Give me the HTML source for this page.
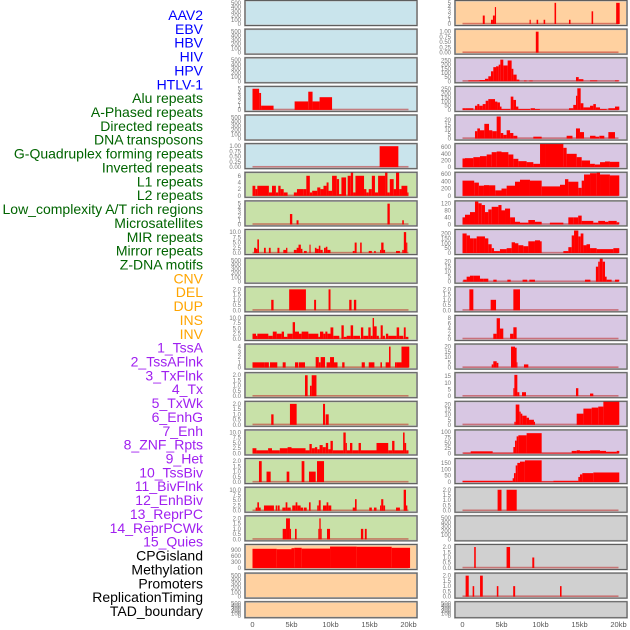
<!DOCTYPE html>
<html><head><meta charset="utf-8">
<style>
html,body{margin:0;padding:0;background:#fff;}
svg{display:block;font-family:"Liberation Sans",sans-serif;}
</style></head>
<body>
<svg id="chart" width="630" height="630" viewBox="0 0 630 630" xmlns="http://www.w3.org/2000/svg"></svg>
<script>
// ---------- data ----------
const trackLabels = ["AAV2","EBV","HBV","HIV","HPV","HTLV-1","Alu repeats","A-Phased repeats","Directed repeats","DNA transposons","G-Quadruplex forming repeats","Inverted repeats","L1 repeats","L2 repeats","Low_complexity A/T rich regions","Microsatellites","MIR repeats","Mirror repeats","Z-DNA motifs","CNV","DEL","DUP","INS","INV","1_TssA","2_TssAFlnk","3_TxFlnk","4_Tx","5_TxWk","6_EnhG","7_Enh","8_ZNF_Rpts","9_Het","10_TssBiv","11_BivFlnk","12_EnhBiv","13_ReprPC","14_ReprPCWk","15_Quies","CPGisland","Methylation","Promoters","ReplicationTiming","TAD_boundary"];
const labelColors = ["#0000ff","#0000ff","#0000ff","#0000ff","#0000ff","#0000ff","#006400","#006400","#006400","#006400","#006400","#006400","#006400","#006400","#006400","#006400","#006400","#006400","#006400","#ffa500","#ffa500","#ffa500","#ffa500","#ffa500","#a020f0","#a020f0","#a020f0","#a020f0","#a020f0","#a020f0","#a020f0","#a020f0","#a020f0","#a020f0","#a020f0","#a020f0","#a020f0","#a020f0","#a020f0","#000000","#000000","#000000","#000000","#000000"];
const xTicks = [0,5,10,15,20];
const xTickLabels = ["0","5kb","10kb","15kb","20kb"];

const tEmpty = [0,100,200,300,400,500];
const t2 = [0,0.5,1,1.5,2];
const t10 = [0,2.5,5,7.5,10];
const t5 = [0,1,2,3,4,5];
const t20 = [0,5,10,15,20];

// left column panels (segments: [startKb, endKb, value])
const L0=[],L1=[],L2=[],L4=[],L9=[],L20=[],L21=[];
const L3=[[0,0.85,5],[0.85,1.1,4],[1.1,2.7,1],[5.4,7.15,2],[7.15,7.7,4.3],[7.7,8.6,2],[8.6,10.2,3]];
const L5=[[16.3,18.7,1]];
const L6=[[0,0.36,3],[0.36,0.62,2],[0.62,2.1,3],[2.1,2.5,1],[2.5,3.0,3],[3.0,3.3,1],[3.3,3.6,3],[3.6,4.0,2],[4.0,4.5,1],[5.3,5.7,1],[5.7,6.5,2],[6.5,6.9,2],[6.9,7.35,6],[7.35,7.65,1],[7.65,8.3,1.5],[8.3,8.7,2.5],[8.7,9.1,2],[9.1,9.5,3],[9.5,9.75,4],[9.75,10.2,1.5],[10.2,10.8,6],[10.8,11.1,5],[11.1,11.4,0.5],[11.4,12.0,5.5],[12.2,12.6,6],[12.6,12.9,7],[12.9,13.2,1],[13.2,14.3,6],[14.3,14.6,2],[14.6,14.9,1],[14.9,15.3,2],[15.3,15.7,6],[15.7,16.1,1],[16.1,17.0,6],[17.0,17.3,7],[17.3,17.6,1],[17.6,18.1,5],[18.1,18.4,2],[18.4,18.8,7],[18.8,19.1,2],[19.1,19.85,3],[19.85,20,1]];
const L7=[[4.8,5.1,2.5],[5.65,5.9,1],[17.3,17.6,5],[19.2,19.4,1]];
const L8=[[0.2,0.45,2.5],[0.45,0.62,2],[0.62,0.83,6.5],[1.47,1.7,2.5],[2.1,2.33,2.5],[3.2,3.45,2.5],[3.95,4.3,1.5],[4.3,4.47,2.5],[5.3,5.66,1.5],[5.66,5.9,2.5],[5.9,6.2,4],[6.2,6.4,2],[6.6,6.95,1],[7.3,7.45,4],[8.0,8.2,2.5],[8.2,8.5,2],[8.5,8.7,3.5],[8.7,9.0,1.5],[9.17,9.4,2.5],[9.4,9.6,3],[9.6,10.0,1.5],[12.85,13.1,1],[13.1,13.35,5],[13.8,14.0,5],[14.9,15.3,1],[15.6,15.8,1],[16.35,16.5,1.5],[16.5,16.8,5],[16.8,17.0,1.5],[18.4,18.9,1],[19.2,19.4,1.5],[19.4,19.7,10],[19.7,19.85,5]];
const L10=[[2.4,2.7,1],[4.7,6.85,2],[7.9,8.15,1],[9.75,10.0,2],[12.4,12.7,1],[13.0,13.3,1]];
const L11=[[0,0.45,2.5],[0.45,0.62,1.5],[0.62,2.03,2.5],[2.03,2.6,1.5],[2.6,3.1,3.5],[3.1,3.74,2.5],[3.74,4.04,3.5],[4.04,4.47,1],[4.47,5.15,2.5],[5.15,5.45,8],[5.45,5.96,3.5],[5.96,6.3,2.5],[6.3,7.16,3.5],[7.16,8.44,2.5],[8.44,8.65,1],[8.65,9.08,3.5],[9.08,9.34,2.5],[9.34,9.6,3.5],[9.6,10.0,2.5],[10.0,10.36,5.5],[10.36,11.13,1.5],[11.4,11.7,6.5],[11.7,12.07,1],[12.07,12.58,1.5],[12.58,12.9,6.5],[12.9,13.78,1.5],[13.9,14.2,5.5],[14.2,14.85,1.5],[14.85,15.15,5.5],[15.15,15.4,1.5],[15.4,15.58,10],[15.58,15.92,6],[15.92,16.2,1.5],[16.43,16.7,6.5],[16.7,16.98,1.5],[17.1,17.4,2.5],[17.4,18.48,1.5],[18.48,18.8,5.5],[18.8,19.33,1.5],[19.4,19.64,5.5],[19.64,19.98,1]];
const L12=[[0,1.52,1],[1.52,2.1,1],[2.24,3.18,1],[3.87,4.25,1],[5.45,5.88,1],[5.96,6.73,1],[8.1,8.5,2],[8.5,8.74,1],[8.74,9.3,2],[9.5,9.94,1],[9.94,10.45,2],[10.45,10.9,1],[11.5,11.8,1],[14.0,14.4,1],[14.9,15.63,1],[16.4,16.6,1],[17.07,17.5,1],[17.5,17.7,4],[18.27,18.48,1],[18.48,19.1,1],[19.1,20.1,4]];
const L13=[[6.73,7.07,2],[7.37,7.59,1],[7.59,8.2,2]];
const L14=[[2.4,2.7,1],[4.8,5.66,2],[9.04,9.3,2],[9.38,9.77,1]];
const L15=[[0,0.5,2.5],[0.5,2.0,1.5],[2.0,2.5,2.5],[2.5,3.5,1.5],[3.5,4.5,2.5],[4.5,5.0,3],[5.0,6.8,2.5],[6.8,7.3,1.5],[7.3,7.6,4.5],[7.6,8.0,2.5],[8.0,8.3,3],[8.3,8.6,2],[8.6,9.0,4],[9.0,9.4,3],[9.4,9.7,5],[9.7,10.0,2],[10.0,10.3,6],[10.3,11.65,1.5],[11.65,11.95,10],[11.95,12.1,5],[12.1,12.5,1.5],[12.5,12.8,5],[12.8,13.6,1.5],[13.6,13.9,5],[13.9,15.9,1.5],[15.9,17.4,5],[17.4,17.9,1.5],[17.9,18.2,6],[18.2,19.3,1.5],[19.3,19.5,10],[19.5,19.7,5],[19.7,20,1.5]];
const L16=[[0.83,1.18,2],[1.8,2.33,1],[4.38,4.72,1],[6.3,6.65,2],[7.24,8.1,1],[8.27,9.17,2]];
const L17=[[0.4,0.62,1.5],[0.62,0.83,4],[0.83,1.05,1.5],[1.47,2.75,2.5],[2.97,3.2,2.5],[3.27,3.48,2.5],[3.83,4.25,1.5],[4.25,4.47,4],[4.47,4.9,1.5],[5.1,5.53,2.5],[5.53,5.75,4],[5.75,6.17,2.5],[6.17,6.5,1.5],[6.6,6.95,1.5],[7.24,7.45,4],[8.3,8.5,2.5],[8.5,8.74,5],[9.04,9.5,2.5],[9.5,9.72,4],[9.72,10.1,2.5],[12.85,13.14,1.5],[13.14,13.35,5.5],[14.97,15.3,1.5],[15.57,15.9,1.5],[16.35,16.5,2.5],[16.5,16.77,5.5],[16.77,17.0,2.5],[18.4,18.9,1.5],[19.38,19.68,10],[19.68,19.85,2.5]];
const L18=[[3.87,4.3,1],[4.3,4.8,2],[4.8,4.94,1],[5.45,5.66,1],[8.44,8.57,1],[8.57,8.74,2],[8.74,8.87,1],[9.55,9.94,1],[13.9,14.2,1],[14.4,14.64,1]];
const L19=[[0,3.1,950],[3.1,5.0,930],[5.0,5.36,980],[5.36,6.3,1000],[6.3,9.94,960],[9.94,13.35,1060],[13.35,17.84,1050],[17.84,20.2,1000]];

// right column panels
const R18=[],R21=[];
const R0=[[2.6,2.85,2],[3.65,3.9,1],[3.9,4.15,2],[4.15,4.3,4],[8.6,8.75,1],[9.5,9.7,1],[10.4,10.6,1],[11.8,12.0,5],[13.65,13.85,1],[16.55,16.75,3],[19.7,20.15,5]];
const R1=[[9.4,9.75,1]];
const R2=[[0.75,2.16,10],[2.16,2.88,15],[2.88,3.31,30],[3.31,3.65,60],[3.65,3.95,120],[3.95,4.3,170],[4.3,4.64,180],[4.64,4.85,200],[4.85,5.23,260],[5.23,5.79,190],[5.79,6.3,250],[6.3,6.52,150],[6.52,6.94,80],[6.94,7.29,20],[7.88,8.22,8],[8.57,9.0,8],[14.55,14.9,50],[14.9,15.5,25],[16.35,17.28,10],[19.55,20.1,10]];
const R3=[[0,0.36,20],[0.36,1.39,20],[1.6,1.9,50],[1.9,2.16,70],[2.16,2.59,50],[2.59,2.97,70],[2.97,3.31,110],[3.31,3.65,130],[3.65,4.17,130],[4.17,4.47,100],[4.47,4.8,90],[4.8,5.0,40],[5.0,6.1,10],[6.18,6.52,160],[6.52,6.86,120],[6.86,7.16,40],[7.16,8.65,10],[8.74,9.29,20],[9.29,9.92,10],[13.65,14.2,20],[14.2,14.55,60],[14.55,14.72,170],[14.72,15.15,260],[15.15,15.5,80],[15.5,16.35,30],[16.35,16.77,50],[16.77,17.1,70],[17.1,17.63,30],[17.63,18.48,10],[18.7,19.55,20],[19.55,20.1,40]];
const R4=[[1.6,1.9,8],[1.9,2.24,11],[2.24,2.8,9],[2.8,3.4,16],[3.4,3.82,9],[3.82,4.38,8],[4.38,4.9,24],[4.9,5.23,6],[5.23,5.66,4],[5.66,6.1,9],[6.1,6.52,6],[6.52,7.03,3],[9.08,10.15,2],[13.35,14.1,3],[14.55,15.06,11],[15.06,15.58,7],[16.35,17.05,3],[17.05,17.5,2],[17.54,18.18,3],[18.7,19.55,7]];
const R5=[[0,0.32,260],[0.32,1.39,270],[1.39,2.24,300],[2.24,3.1,330],[3.1,3.74,380],[3.74,4.38,450],[4.38,5.0,470],[5.0,5.88,450],[5.88,6.52,380],[6.52,7.16,250],[7.16,8.22,180],[8.22,9.08,150],[9.08,9.94,100],[9.94,10.58,720],[10.58,12.93,700],[12.93,13.35,580],[13.35,14.64,400],[14.64,15.28,300],[15.28,16.35,200],[16.35,16.97,100],[16.97,17.63,80],[17.63,18.27,150],[18.27,18.9,170],[18.9,20.1,160]];
const R6=[[0,1.5,420],[1.5,2.1,365],[2.1,2.75,280],[2.75,3.4,295],[3.4,4.2,290],[4.2,5.0,150],[5.0,5.66,200],[5.66,6.73,280],[6.73,7.37,390],[7.37,8.65,445],[8.65,10.15,420],[10.15,12.5,260],[12.5,13.14,305],[13.14,13.57,460],[13.57,14.85,390],[14.85,15.28,220],[15.28,15.58,420],[15.58,16.35,590],[16.35,17.2,625],[17.2,17.63,655],[17.63,18.9,590],[18.9,20.1,565]];
const R7=[[0,0.32,40],[0.32,0.96,55],[0.96,1.6,70],[1.6,2.03,130],[2.03,2.46,120],[2.46,2.88,110],[2.88,3.31,70],[3.31,3.74,85],[3.74,4.6,100],[4.6,5.0,110],[5.0,5.45,80],[5.45,6.1,90],[6.1,6.73,40],[6.73,7.37,15],[7.37,8.44,10],[8.44,9.29,25],[9.29,10.15,15],[11.2,12.93,10],[13.57,14.2,40],[14.2,14.83,40],[14.83,15.28,50],[15.28,16.77,20],[16.77,17.4,10],[17.4,18.27,20],[18.27,18.7,15],[18.7,19.77,20],[19.77,20.1,12]];
const R8=[[0,0.53,200],[0.53,0.96,180],[0.96,1.39,150],[1.39,1.82,150],[1.82,2.24,170],[2.24,2.88,170],[2.88,3.31,150],[3.31,3.74,90],[3.74,4.04,50],[4.04,4.8,20],[4.8,5.66,40],[5.66,6.3,50],[6.3,6.73,110],[6.73,7.16,100],[7.16,7.8,80],[7.8,8.44,70],[8.44,9.29,120],[9.29,9.94,130],[9.94,10.15,120],[12.93,13.57,20],[13.57,14.0,60],[14.0,14.3,180],[14.3,14.85,230],[14.85,15.15,170],[15.15,15.5,200],[15.5,15.9,80],[15.9,16.35,90],[16.35,17.2,50],[17.2,17.63,40],[17.63,19.34,40],[19.34,20.1,50]];
const R9=[[0.1,0.53,2],[0.53,0.96,5],[0.96,1.39,6],[1.39,2.24,6],[2.24,2.67,3],[2.67,3.31,3],[3.95,4.38,2],[5.75,6.18,2],[7.7,8.3,2],[8.57,9.29,2],[15.7,16.4,2],[17.1,17.4,15],[17.4,17.6,20],[17.6,17.97,23],[17.97,18.27,20],[18.27,18.48,5],[18.48,19.12,2],[19.55,20.1,2]];
const R10=[[0.88,1.39,2],[3.61,4.3,1],[6.52,7.37,2]];
const R11=[[3.95,4.38,2],[4.38,4.8,8],[4.8,5.23,4],[6.1,6.52,2],[6.52,6.94,4.5]];
const R12=[[3.74,3.95,3],[3.95,4.38,6],[4.38,4.6,4.5],[6.22,6.73,20],[6.73,6.94,19],[6.94,7.03,5],[7.88,8.44,3]];
const R13=[[6.52,6.65,6],[6.65,7.03,16],[7.03,7.29,3],[7.63,8.14,3],[14.55,14.85,6],[16.35,16.77,2]];
const R14=[[6.65,6.82,3],[6.82,7.29,20],[7.29,7.46,13],[7.46,7.67,11],[7.67,8.22,9],[8.22,8.53,7],[8.53,9.16,5],[9.16,9.3,3],[14.64,15.5,11],[15.5,16.56,16],[16.56,17.4,17],[17.4,18.06,18],[18.06,20.1,24]];
const R15=[[0.1,1.05,3],[1.05,3.87,10],[3.87,6.52,3],[6.52,6.73,30],[6.73,6.94,60],[6.94,7.16,80],[7.16,8.22,85],[8.22,10.15,95],[10.15,14.0,3],[14.0,14.64,12],[14.64,15.06,15],[15.06,16.35,12],[16.35,17.63,15],[17.63,18.4,12],[18.4,19.77,8],[19.77,20.1,12]];
const R16=[[0,6.43,10],[6.43,6.6,30],[6.6,6.82,70],[6.82,7.03,130],[7.03,7.37,150],[7.37,8.0,160],[8.0,10.15,170],[10.15,11.65,5],[11.65,14.85,10],[14.85,15.06,40],[15.06,15.36,60],[15.36,16.77,70],[16.77,20.1,75]];
const R17=[[4.5,5.0,2],[5.65,6.95,2]];
const R19=[[1.5,1.7,2],[5.65,6.1,2],[8.95,9.2,1]];
const R20=[[0.4,0.8,2],[1.3,1.5,1],[2.25,2.6,2],[4.4,4.6,1],[6.5,6.75,1],[12.5,12.7,1]];

const leftSeries=[L0,L1,L2,L3,L4,L5,L6,L7,L8,L9,L10,L11,L12,L13,L14,L15,L16,L17,L18,L19,L20,L21];
const leftMax=[520,520,520,5.2,520,1.05,6.6,5.3,10.5,520,2.1,10.5,4.2,2.1,2.1,10.5,2.1,10.5,2.1,1090,520,520];
const leftTicks=[tEmpty,tEmpty,tEmpty,t5,tEmpty,[0,0.25,0.5,0.75,1],[0,2,4,6],t5,t10,tEmpty,t2,t10,[0,1,2,3,4],t2,t2,t10,t2,t10,t2,[0,300,600,900],tEmpty,tEmpty];
const rightSeries=[R0,R1,R2,R3,R4,R5,R6,R7,R8,R9,R10,R11,R12,R13,R14,R15,R16,R17,R18,R19,R20,R21];
const rightMax=[5.2,1.05,265,265,24,660,610,125,225,22,2.1,8.5,21,16.5,21.7,103,172,2.1,520,2.1,2.1,520];
const rightTicks=[t5,[0,0.25,0.5,0.75,1],[0,50,100,150,200,250],[0,50,100,150,200,250],t20,[0,200,400,600],[0,200,400,600],[0,40,80,120],[0,50,100,150,200],t20,t2,[0,2,4,6,8],t20,[0,5,10,15],t20,[0,25,50,75,100],[0,50,100,150],t2,tEmpty,t2,t2,tEmpty];
const leftBg=["#c9e4ec","#c9e4ec","#c9e4ec","#c9e4ec","#c9e4ec","#c9e4ec","#c8e1a8","#c8e1a8","#c8e1a8","#c8e1a8","#c8e1a8","#c8e1a8","#c8e1a8","#c8e1a8","#c8e1a8","#c8e1a8","#c8e1a8","#c8e1a8","#c8e1a8","#ffd1a0","#ffd1a0","#ffd1a0"];
const rightBg=["#ffd1a0","#ffd1a0","#d8c7e3","#d8c7e3","#d8c7e3","#d8c7e3","#d8c7e3","#d8c7e3","#d8c7e3","#d8c7e3","#d8c7e3","#d8c7e3","#d8c7e3","#d8c7e3","#d8c7e3","#d8c7e3","#d8c7e3","#d0d0d0","#d0d0d0","#d0d0d0","#d0d0d0","#d0d0d0"];

// ---------- drawing ----------
const NS="http://www.w3.org/2000/svg";
const svg=document.getElementById('chart');
function mk(tag,attrs,parent){const e=document.createElementNS(NS,tag);for(const k in attrs)e.setAttribute(k,attrs[k]);(parent||svg).appendChild(e);return e;}
const PITCH=28.63;
const cols=[{box:245,x0:252.5,axis:241,series:leftSeries,max:leftMax,ticks:leftTicks,bg:leftBg,name:'left'},
            {box:455,x0:462.5,axis:451,series:rightSeries,max:rightMax,ticks:rightTicks,bg:rightBg,name:'right'}];
const KBPX=7.8;

cols.forEach(c=>{
  for(let i=0;i<22;i++){
    const top=i*PITCH+0.5;
    const h=(i===21)?16:25;
    const base=top+h-1.5, ytop=top+1.5;
    const yS=v=>base-(v/c.max[i])*(base-ytop);
    const xS=kb=>c.x0+kb*KBPX;
    const g=mk('g',{});
    
    
    const clipId='clip-'+c.name+i;
    const cp=mk('clipPath',{id:clipId},g);
    mk('rect',{x:c.box,y:top,width:172,height:h},cp);
    const bg=mk('rect',{x:c.box,y:top,width:172,height:h,fill:c.bg[i],stroke:'#bbb','stroke-width':2},g);
    
    
    const segs=c.series[i];
    const bars=mk('g',{'clip-path':'url(#'+clipId+')'},g);
    if(segs.length){
      const bl=mk('rect',{x:xS(0),y:base-1.2,width:xS(20)-xS(0),height:1.6,fill:'rgba(190,40,40,0.55)'},bars);
      
      
    }
    segs.forEach(s=>{
      const r=mk('rect',{x:xS(s[0]),y:yS(s[2]),width:Math.max(0.8,xS(s[1])-xS(s[0])),height:base-yS(s[2]),fill:'#ff0000'},bars);
      
      
    });
    mk('rect',{x:c.box,y:top,width:172,height:h,fill:'none',stroke:'#555','stroke-width':0.9},g);
    const tk=c.ticks[i];
    const ymaxTick=tk[tk.length-1];
    const dec = (ymaxTick===1)?2:(tk.some(v=>v%1!==0)?1:0);
    tk.forEach(t=>{
      const tx=mk('text',{x:c.axis,y:yS(t)+2,'font-size':6,fill:'#777','text-anchor':'end'},g);
      tx.textContent=t.toFixed(dec);
      
      
    });
  }
  xTicks.forEach((t,j)=>{
    const tx=mk('text',{x:c.x0+t*KBPX,y:627,'font-size':7.5,fill:'#555','text-anchor':'middle'});
    tx.textContent=xTickLabels[j];
    
    
  });
});

trackLabels.forEach((lab,i)=>{
  const t=mk('text',{x:203,y:20+i*13.86,'font-size':14,fill:labelColors[i],'text-anchor':'end'});
  t.textContent=lab;
  
  
});
</script>
</body></html>
